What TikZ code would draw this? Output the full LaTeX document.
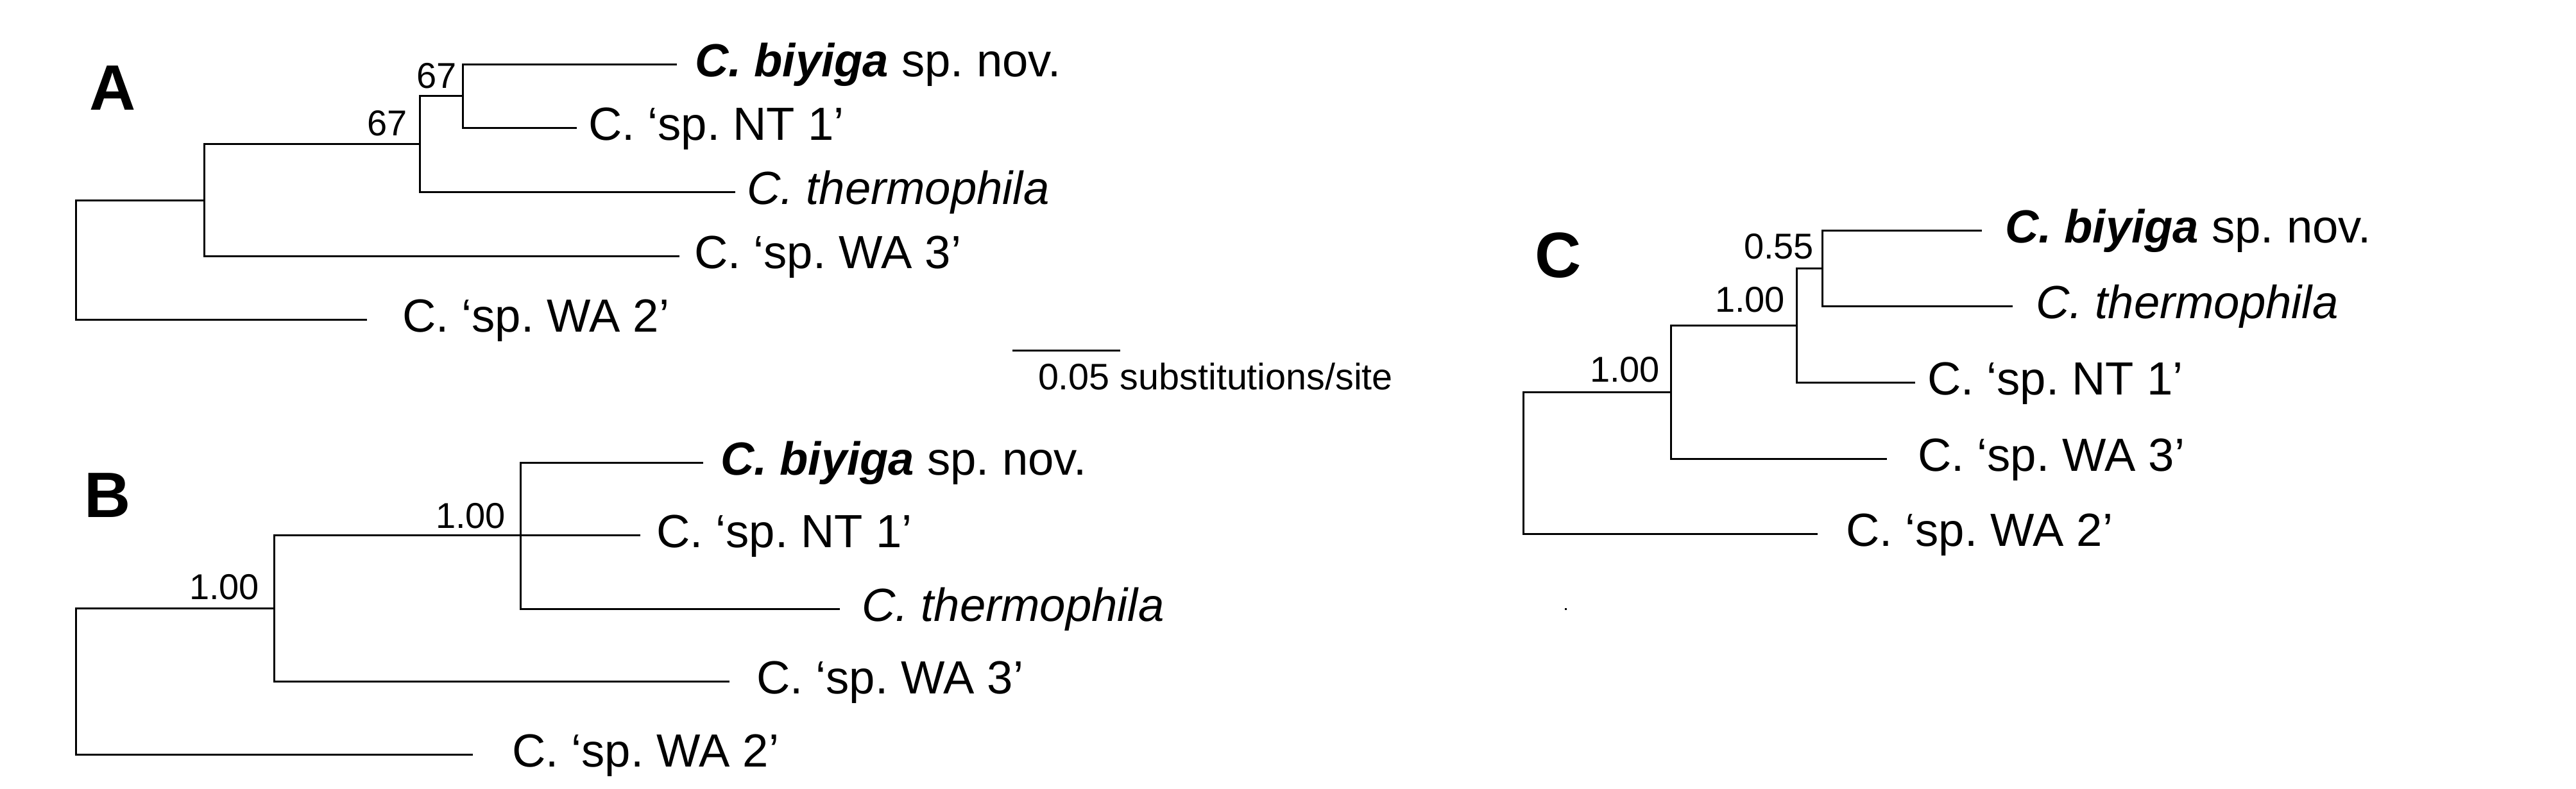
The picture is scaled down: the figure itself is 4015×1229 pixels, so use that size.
\documentclass[tikz,border=0pt]{standalone}
\usepackage{fontspec}
\setmainfont{Liberation Sans}
\frenchspacing
\begin{document}
\begin{tikzpicture}[x=0.2pt,y=-0.2pt,
  br/.style={line width=0.6pt, line join=miter},
  taxon/.style={anchor=base west, inner sep=0pt, font=\fontsize{14.5pt}{16pt}\selectfont},
  supp/.style={anchor=base east, inner sep=0pt, font=\fontsize{11.2pt}{13pt}\selectfont},
  panel/.style={anchor=base west, inner sep=0pt, font=\fontsize{20pt}{24pt}\selectfont\bfseries},
  scaletext/.style={anchor=base west, inner sep=0pt, font=\fontsize{11.5pt}{13pt}\selectfont}]
\useasboundingbox (0,0) rectangle (4015,1229);

% ---------------- Panel A ----------------
\node[panel] (Alab) at (139,171) {A};
\coordinate (Ar)   at (118,405);
\coordinate (An2)  at (318,312);
\coordinate (An3)  at (654,224);
\coordinate (An4)  at (721,149);
\coordinate (Abiy) at (1055,100);
\coordinate (Ant1) at (899,199);
\coordinate (Ath)  at (1146,299);
\coordinate (Awa3) at (1059,399);
\coordinate (Awa2) at (572,498);
\draw[br] (Ar) |- (An2) (Ar) |- (Awa2);
\draw[br] (An2) |- (An3) (An2) |- (Awa3);
\draw[br] (An3) |- (An4) (An3) |- (Ath);
\draw[br] (An4) |- (Abiy) (An4) |- (Ant1);
\node[supp] (As4) at (713,137) {67};
\node[supp] (As3) at (636,211) {67};
\node[taxon] (Atbiy) at (1082,119) {\bfseries\itshape C. biyiga\normalfont{} sp. nov.};
\node[taxon] (Atnt1) at (916,218) {C. ‘sp. NT 1’};
\node[taxon] (Atth)  at (1163,318) {\itshape C. thermophila};
\node[taxon] (Atwa3) at (1081,418) {C. ‘sp. WA 3’};
\node[taxon] (Atwa2) at (626,517) {C. ‘sp. WA 2’};

% scale bar
\coordinate (sbL) at (1578,546);
\coordinate (sbR) at (1746,546);
\draw[br] (sbL) -- (sbR);
\node[scaletext] (sbt) at (1617,607) {0.05 substitutions/site};

% ---------------- Panel B ----------------
\node[panel] (Blab) at (130,806) {B};
\coordinate (Br)   at (118,1062);
\coordinate (Bn2)  at (427,948);
\coordinate (Bn3)  at (811,834);
\coordinate (Bbiy) at (1096,721);
\coordinate (Bnt1) at (998,834);
\coordinate (Bth)  at (1309,949);
\coordinate (Bwa3) at (1137,1062);
\coordinate (Bwa2) at (737,1176);
\draw[br] (Br) |- (Bn2) (Br) |- (Bwa2);
\draw[br] (Bn2) |- (Bn3) (Bn2) |- (Bwa3);
\draw[br] (Bn3) |- (Bbiy) (Bn3) |- (Bth) (Bn3) -- (Bnt1);
\node[supp] (Bs3) at (789,823) {1.00};
\node[supp] (Bs2) at (405,934) {1.00};
\node[taxon] (Btbiy) at (1122,740) {\bfseries\itshape C. biyiga\normalfont{} sp. nov.};
\node[taxon] (Btnt1) at (1022,853) {C. ‘sp. NT 1’};
\node[taxon] (Btth)  at (1342,968) {\itshape C. thermophila};
\node[taxon] (Btwa3) at (1178,1081) {C. ‘sp. WA 3’};
\node[taxon] (Btwa2) at (797,1195) {C. ‘sp. WA 2’};

% ---------------- Panel C ----------------
\node[panel] (Clab) at (2391,432) {C};
\coordinate (Cr)   at (2374,720);
\coordinate (Cn2)  at (2604,611);
\coordinate (Cn3)  at (2800,507);
\coordinate (Cn4)  at (2840,418);
\coordinate (Cbiy) at (3089,359);
\coordinate (Cth)  at (3137,477);
\coordinate (Cnt1) at (2985,596);
\coordinate (Cwa3) at (2941,715);
\coordinate (Cwa2) at (2833,832);
\draw[br] (Cr) |- (Cn2) (Cr) |- (Cwa2);
\draw[br] (Cn2) |- (Cn3) (Cn2) |- (Cwa3);
\draw[br] (Cn3) |- (Cn4) (Cn3) |- (Cnt1);
\draw[br] (Cn4) |- (Cbiy) (Cn4) |- (Cth);
\node[supp] (Cs4) at (2828,403) {0.55};
\node[supp] (Cs3) at (2783,486) {1.00};
\node[supp] (Cs2) at (2588,595) {1.00};
\node[taxon] (Ctbiy) at (3124,378) {\bfseries\itshape C. biyiga\normalfont{} sp. nov.};
\node[taxon] (Ctth)  at (3172,496) {\itshape C. thermophila};
\node[taxon] (Ctnt1) at (3003,615) {C. ‘sp. NT 1’};
\node[taxon] (Ctwa3) at (2988,734) {C. ‘sp. WA 3’};
\node[taxon] (Ctwa2) at (2876,851) {C. ‘sp. WA 2’};

% small speck
\fill (2439,948) rectangle (2442,951);
\end{tikzpicture}
\end{document}
